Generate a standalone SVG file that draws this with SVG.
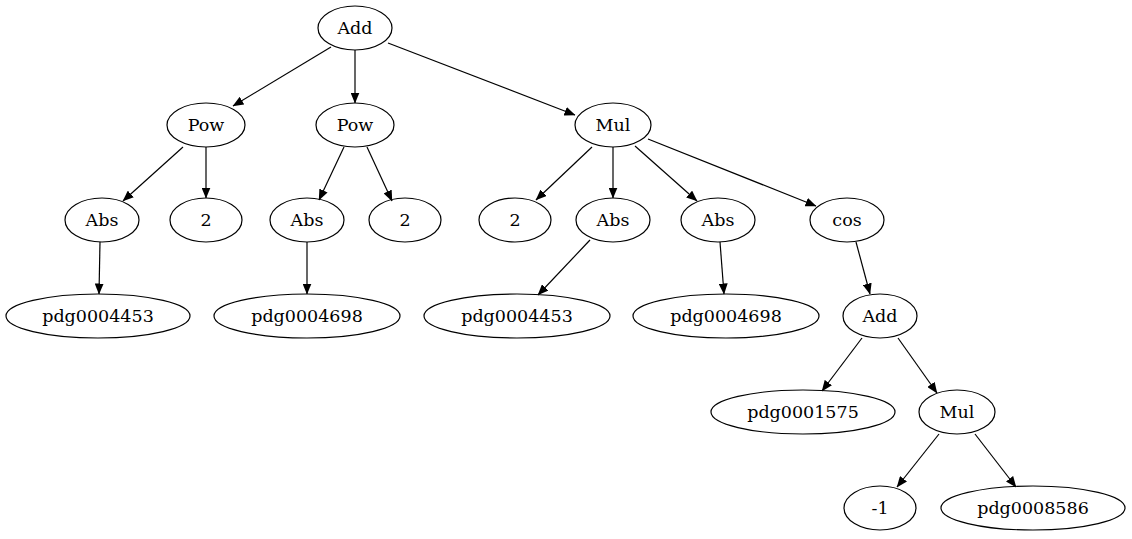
<svg xmlns="http://www.w3.org/2000/svg" width="1132" height="539" viewBox="0 0 1132 539">
<style>
.n ellipse{fill:none;stroke:#000;stroke-width:1.2}
.n text{font-family:"DejaVu Serif","Liberation Serif",serif;font-size:17.5px;text-anchor:middle;fill:#000}
#edges path{fill:none;stroke:#000;stroke-width:1.2;marker-end:url(#ah)}
</style>
<defs>
<marker id="ah" markerUnits="userSpaceOnUse" markerWidth="11" markerHeight="9" viewBox="0 0 11 9" refX="10.5" refY="4.5" orient="auto">
<path d="M0,0 L11,4.5 L0,9 z" fill="#000"/>
</marker>
</defs>
<rect width="1132" height="539" fill="#fff"/>
<g id="edges">
<path d="M331,47 L233,106"/>
<path d="M355,50 L355,103"/>
<path d="M388,43 L575,115"/>
<path d="M183,147 L123,201"/>
<path d="M206,147 L206,198"/>
<path d="M344,147 L319,200"/>
<path d="M367,147 L392,201"/>
<path d="M592,147 L536,200"/>
<path d="M613,147 L613,198"/>
<path d="M635,146 L697,201"/>
<path d="M648,139 L816,206"/>
<path d="M100,242 L99,294"/>
<path d="M307,242 L307,294"/>
<path d="M590,240 L538,295"/>
<path d="M720,242 L724,294"/>
<path d="M856,242 L870,294"/>
<path d="M862,338 L822,391"/>
<path d="M898,338 L937,393"/>
<path d="M939,434 L897,487"/>
<path d="M975,434 L1016,487"/>
</g>
<g id="add1" class="n"><ellipse cx="355" cy="28" rx="37" ry="22"/><text x="355" y="34">Add</text></g>
<g id="pow1" class="n"><ellipse cx="206" cy="125" rx="39" ry="22"/><text x="206" y="131">Pow</text></g>
<g id="pow2" class="n"><ellipse cx="355" cy="125" rx="39" ry="22"/><text x="355" y="131">Pow</text></g>
<g id="mul1" class="n"><ellipse cx="613" cy="125" rx="38" ry="22"/><text x="613" y="131">Mul</text></g>
<g id="abs1" class="n"><ellipse cx="102" cy="220" rx="37" ry="22"/><text x="102" y="226">Abs</text></g>
<g id="two1" class="n"><ellipse cx="206" cy="220" rx="36" ry="22"/><text x="206" y="226">2</text></g>
<g id="abs2" class="n"><ellipse cx="307" cy="220" rx="37" ry="22"/><text x="307" y="226">Abs</text></g>
<g id="two2" class="n"><ellipse cx="405" cy="220" rx="36" ry="22"/><text x="405" y="226">2</text></g>
<g id="two3" class="n"><ellipse cx="515" cy="220" rx="36" ry="22"/><text x="515" y="226">2</text></g>
<g id="abs3" class="n"><ellipse cx="613" cy="220" rx="37" ry="22"/><text x="613" y="226">Abs</text></g>
<g id="abs4" class="n"><ellipse cx="718" cy="220" rx="37" ry="22"/><text x="718" y="226">Abs</text></g>
<g id="cos" class="n"><ellipse cx="847" cy="220" rx="37" ry="22"/><text x="847" y="226">cos</text></g>
<g id="p4453a" class="n"><ellipse cx="98" cy="316" rx="92" ry="22"/><text x="98" y="322">pdg0004453</text></g>
<g id="p4698a" class="n"><ellipse cx="307" cy="316" rx="93" ry="22"/><text x="307" y="322">pdg0004698</text></g>
<g id="p4453b" class="n"><ellipse cx="517" cy="316" rx="93" ry="22"/><text x="517" y="322">pdg0004453</text></g>
<g id="p4698b" class="n"><ellipse cx="726" cy="316" rx="93" ry="22"/><text x="726" y="322">pdg0004698</text></g>
<g id="add2" class="n"><ellipse cx="880" cy="316" rx="37" ry="22"/><text x="880" y="322">Add</text></g>
<g id="p1575" class="n"><ellipse cx="803" cy="412" rx="92" ry="22"/><text x="803" y="418">pdg0001575</text></g>
<g id="mul2" class="n"><ellipse cx="957" cy="412" rx="38" ry="22"/><text x="957" y="418">Mul</text></g>
<g id="neg1" class="n"><ellipse cx="880" cy="508" rx="36" ry="22"/><text x="880" y="514">-1</text></g>
<g id="p8586" class="n"><ellipse cx="1033" cy="508" rx="92" ry="22"/><text x="1033" y="514">pdg0008586</text></g>
</svg>
